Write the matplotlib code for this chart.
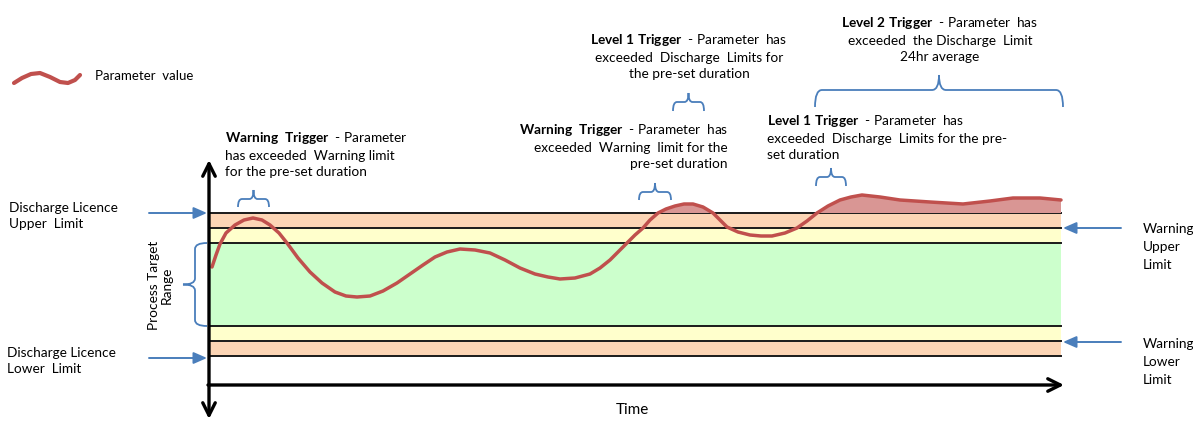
import matplotlib
matplotlib.use("Agg")
import matplotlib.pyplot as plt
from matplotlib.path import Path
from matplotlib.patches import PathPatch

# Calibri 느낌의 글꼴 (Carlito는 Lato 기반)
plt.rcParams["font.family"] = ["Lato", "DejaVu Sans"]
plt.rcParams["mathtext.fontset"] = "custom"
plt.rcParams["mathtext.rm"] = "Lato"
plt.rcParams["mathtext.bf"] = "Lato:bold"
plt.rcParams["mathtext.it"] = "Lato:italic"

# --- 데이터 (그림 좌표계 기준: 아래로 갈수록 값이 커짐) ---
# 한계선 높이
discharge_upper = 213
warning_upper = 228
target_upper = 243
target_lower = 326
warning_lower = 341
discharge_lower = 356

# 파라미터 곡선 (시간, 값)
time = [212, 216, 220, 226, 235, 244, 253, 262, 270, 279, 287, 298, 310, 322, 335,
        346, 357, 370, 383, 397, 410, 423, 435, 447, 460, 475, 490, 505, 520, 535,
        548, 560, 575, 590, 600, 610, 618, 627, 635, 643, 650, 658, 666, 675, 684,
        693, 703, 713, 720, 727, 738, 750, 761, 772, 785, 797, 807, 817, 828, 840,
        851, 862, 880, 900, 930, 963, 990, 1013, 1040, 1061]
value = [267, 255, 244, 233, 225, 220, 218, 220, 225, 233, 243, 258, 272, 283, 292,
         296, 297, 296, 291, 283, 274, 265, 257, 252, 249, 250, 253, 260, 268, 274,
         277, 279, 278, 274, 268, 260, 252, 243, 235, 228, 220, 213, 209, 206, 204,
         204, 207, 213, 220, 227, 232, 235, 236, 236, 233, 228, 221, 213, 206, 200,
         197, 195, 197, 200, 202, 204, 201, 198, 198, 200]

# 범례용 물결
legend_x = [14, 22, 31, 40, 50, 60, 68, 75, 80]
legend_y = [83, 78, 74, 73, 77, 82, 83, 80, 75]

# 색상
RED = "#C0504D"
BLUE = "#4A7EBB"
ORANGE = "#FCD5B5"
YELLOW = "#FFFFCC"
GREEN = "#CCFFCC"

fig = plt.figure(figsize=(11.93, 4.21), dpi=100)
ax = fig.add_axes([0, 0, 1, 1])
ax.set_xlim(0, 1193)
ax.set_ylim(421, 0)
ax.axis("off")

x0, x1 = 209, 1061

# --- 밴드 ---
bands = [(discharge_upper, warning_upper, ORANGE),
         (warning_upper, target_upper, YELLOW),
         (target_upper, target_lower, GREEN),
         (target_lower, warning_lower, YELLOW),
         (warning_lower, discharge_lower, ORANGE)]
for lo, hi, c in bands:
    ax.fill_between([x0, x1], lo, hi, color=c, lw=0, zorder=1)
for lvl in [discharge_upper, warning_upper, target_upper, target_lower,
            warning_lower, discharge_lower]:
    ax.plot([x0, x1], [lvl, lvl], color="#1a1a1a", lw=1.4, zorder=2)

# --- 곡선과 초과 영역 ---
ax.fill_between(time, value, discharge_upper,
                where=[v <= discharge_upper for v in value],
                interpolate=True, color="#D99694", lw=0, zorder=3)
ax.plot(time, value, color=RED, lw=2.5, zorder=4,
        solid_capstyle="round", solid_joinstyle="round")

# --- 축 화살표 ---
ax.annotate("", xy=(x0, 160), xytext=(x0, 419),
            arrowprops=dict(arrowstyle="<->,head_length=0.9,head_width=0.45",
                            color="black", lw=2.4, shrinkA=0, shrinkB=0), zorder=5)
ax.annotate("", xy=(1064, 385), xytext=(x0 - 1, 385),
            arrowprops=dict(arrowstyle="->,head_length=0.9,head_width=0.45",
                            color="black", lw=2.4, shrinkA=0, shrinkB=0), zorder=5)
ax.text(632, 410, "Time", ha="center", va="center", fontsize=11)


# --- 중괄호 ---
def hbrace(xa, xb, y_end, y_mid, y_tip, r=4):
    xm = (xa + xb) / 2
    verts = [(xa, y_end), (xa, y_mid), (xa + r, y_mid), (xm - r, y_mid),
             (xm, y_mid), (xm, y_tip), (xm, y_mid), (xm + r, y_mid),
             (xb - r, y_mid), (xb, y_mid), (xb, y_end)]
    codes = [Path.MOVETO, Path.CURVE3, Path.CURVE3, Path.LINETO,
             Path.CURVE3, Path.CURVE3, Path.CURVE3, Path.CURVE3,
             Path.LINETO, Path.CURVE3, Path.CURVE3]
    ax.add_patch(PathPatch(Path(verts, codes), fc="none", ec=BLUE, lw=1.3, zorder=5))


def vbrace(ya, yb, x_end, x_mid, x_tip, r=4):
    ym = (ya + yb) / 2
    verts = [(x_end, ya), (x_mid, ya), (x_mid, ya + r), (x_mid, ym - r),
             (x_mid, ym), (x_tip, ym), (x_mid, ym), (x_mid, ym + r),
             (x_mid, yb - r), (x_mid, yb), (x_end, yb)]
    codes = [Path.MOVETO, Path.CURVE3, Path.CURVE3, Path.LINETO,
             Path.CURVE3, Path.CURVE3, Path.CURVE3, Path.CURVE3,
             Path.LINETO, Path.CURVE3, Path.CURVE3]
    ax.add_patch(PathPatch(Path(verts, codes), fc="none", ec=BLUE, lw=1.3, zorder=5))


hbrace(238, 269, 207, 199, 190)
hbrace(639, 671, 200, 192, 183)
hbrace(673, 704, 111, 102, 93)
hbrace(816, 846, 186, 177, 168)
hbrace(815, 1063, 107, 90, 75, r=7)
vbrace(243, 326, 207, 195, 183, r=6)

# --- 파란 화살표 ---
blue_arrow = dict(arrowstyle="-|>,head_length=0.8,head_width=0.35",
                  color=BLUE, lw=1.4, shrinkA=0, shrinkB=0)
ax.annotate("", xy=(207, discharge_upper), xytext=(149, discharge_upper),
            arrowprops=blue_arrow)
ax.annotate("", xy=(207, 358), xytext=(149, 358), arrowprops=blue_arrow)
ax.annotate("", xy=(1063, warning_upper), xytext=(1121, warning_upper),
            arrowprops=blue_arrow)
ax.annotate("", xy=(1063, 342), xytext=(1121, 342), arrowprops=blue_arrow)

# --- 범례 ---
ax.plot(legend_x, legend_y, color=RED, lw=3, solid_capstyle="round",
        solid_joinstyle="round")
ax.text(95, 76, "Parameter  value", ha="left", va="center", fontsize=9.5)

# --- 글자 ---
fs = 9.8
ls = 1.42
ax.text(9, 216, "Discharge Licence\nUpper  Limit", ha="left", va="center",
        fontsize=fs, linespacing=1.35)
ax.text(7, 361, "Discharge Licence\nLower  Limit", ha="left", va="center",
        fontsize=fs, linespacing=1.35)
ax.text(160, 285, "Process Target\nRange", ha="center", va="center",
        rotation=90, fontsize=fs, linespacing=1.1, multialignment="center")

ax.text(225, 154, r"$\mathbf{Warning\ \ Trigger}$  - Parameter" "\n"
        "has exceeded  Warning limit\nfor the pre-set duration",
        ha="left", va="center", fontsize=fs, linespacing=ls)
ax.text(689, 56, r"$\mathbf{Level\ 1\ Trigger}$  - Parameter  has" "\n"
        "exceeded  Discharge  Limits for\nthe pre-set duration",
        ha="center", va="center", fontsize=fs, linespacing=ls,
        multialignment="center")
ax.text(728, 146, r"$\mathbf{Warning\ \ Trigger}$  - Parameter  has" "\n"
        "exceeded  Warning  limit for the\npre-set duration",
        ha="right", va="center", fontsize=fs, linespacing=ls,
        multialignment="right")
ax.text(940, 39, r"$\mathbf{Level\ 2\ Trigger}$  - Parameter  has" "\n"
        "exceeded  the Discharge  Limit\n24hr average",
        ha="center", va="center", fontsize=fs, linespacing=ls,
        multialignment="center")
ax.text(767, 137, r"$\mathbf{Level\ 1\ Trigger}$  - Parameter  has" "\n"
        "exceeded  Discharge  Limits for the pre-\nset duration",
        ha="left", va="center", fontsize=fs, linespacing=ls)

ax.text(1143, 247, "Warning\nUpper\nLimit", ha="left", va="center",
        fontsize=fs, linespacing=1.6)
ax.text(1143, 362, "Warning\nLower\nLimit", ha="left", va="center",
        fontsize=fs, linespacing=1.6)

fig.savefig("out.png", dpi=100)
